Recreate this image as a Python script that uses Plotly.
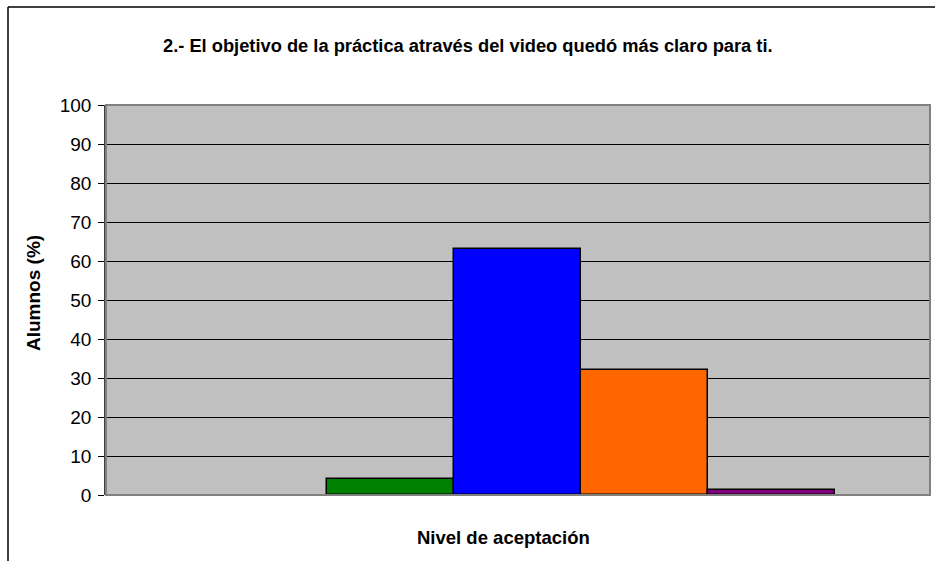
import plotly.graph_objects as go

categories = ["Totalmente de acuerdo", "De acuerdo", "En desacuerdo", "Totalmente en desacuerdo"]
values = [4.2, 63.1, 32.0, 1.2]
colors = ["#008000", "#0000FF", "#FF6600", "#800080"]
y_ticks = [0, 10, 20, 30, 40, 50, 60, 70, 80, 90, 100]

title_text = "2.- El objetivo de la práctica através del video quedó más claro para ti."
y_title = "Alumnos (%)"
x_title = "Nivel de aceptación"

W, H = 935, 561
L, R, T, B = 106, 5, 105, 66
pw, ph = W - L - R, H - T - B

def px(x):
    return (x - L) / pw

def py(y):
    return (H - B - y) / ph

font_main = "Arial, Liberation Sans, sans-serif"

fig = go.Figure()
for c, v, col in zip(categories, values, colors):
    fig.add_trace(go.Bar(
        x=[c], y=[v], name=c, width=1,
        marker=dict(color=col, line=dict(color="black", width=1.5)),
        showlegend=False,
    ))

fig.update_layout(
    width=W, height=H,
    margin=dict(l=L, r=R, t=T, b=B),
    paper_bgcolor="white",
    plot_bgcolor="#C0C0C0",
    barmode="overlay",
    bargap=0,
    font=dict(family=font_main, color="black"),
    xaxis=dict(
        type="category", categoryorder="array", categoryarray=categories,
        range=[-2.24, 4.25], showticklabels=False, showgrid=False,
        zeroline=False, showline=False, ticks="",
    ),
    yaxis=dict(
        range=[0, 100], tickvals=y_ticks, showgrid=True, gridcolor="black",
        gridwidth=1, zeroline=False, showline=True, linecolor="#404040",
        linewidth=1.5, ticks="outside", ticklen=6, tickcolor="black",
        ticklabelstandoff=3,
        tickfont=dict(size=19, family=font_main),
    ),
    shapes=[
        dict(type="rect", xref="paper", yref="paper", x0=0, x1=1, y0=0, y1=1,
             line=dict(color="#808080", width=2), layer="above"),
        dict(type="line", xref="paper", yref="paper", x0=px(8), x1=px(8),
             y0=py(561), y1=py(7), line=dict(color="black", width=1.5)),
        dict(type="line", xref="paper", yref="paper", x0=px(8), x1=px(935),
             y0=py(7), y1=py(7), line=dict(color="black", width=1.5)),
    ],
    annotations=[
        dict(text="<b>" + title_text + "</b>", xref="paper", yref="paper",
             x=px(468), y=py(45), xanchor="center", yanchor="middle",
             showarrow=False, font=dict(size=18.3, family=font_main)),
        dict(text="<b>" + y_title + "</b>", xref="paper", yref="paper",
             x=px(33), y=py(293), xanchor="center", yanchor="middle",
             textangle=-90, showarrow=False, font=dict(size=19, family=font_main)),
        dict(text="<b>" + x_title + "</b>", xref="paper", yref="paper",
             x=px(503), y=py(537), xanchor="center", yanchor="middle",
             showarrow=False, font=dict(size=18.5, family=font_main)),
    ],
)

fig.write_html("out.html", config={"displayModeBar": False},
               post_script="document.body.style.margin='0';")
